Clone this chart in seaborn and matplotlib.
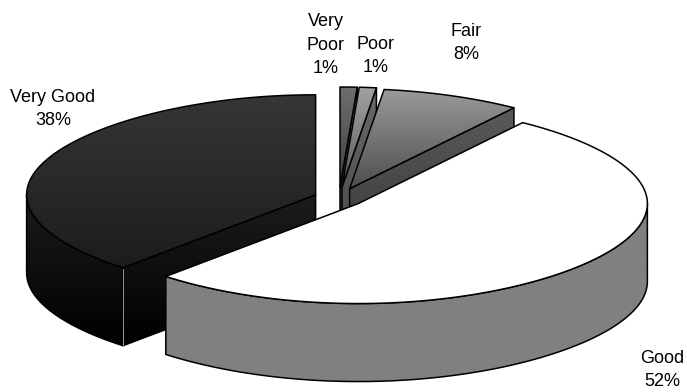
import numpy as np
import matplotlib
matplotlib.use("Agg")
import matplotlib.pyplot as plt
from matplotlib.patches import Polygon
import seaborn as sns

sns.set_theme(style="white")
plt.rcParams["font.family"] = ["Liberation Sans", "DejaVu Sans"]

# Survey responses, in the order the slices run clockwise from twelve o'clock
categories = ["Very Poor", "Poor", "Fair", "Good", "Very Good"]
shares = [1, 1, 8, 52, 38]

# Slice pull-out and shading (top of each gradient, bottom of each gradient)
explode = [0.11, 0.11, 0.10, 0.087, 0.087]
top_shades = [("#6e6e6e", "#404040"), ("#a2a2a2", "#5a5a5a"), ("#9a9a9a", "#4e4e4e"),
              ("#ffffff", "#ffffff"), ("#363636", "#1c1c1c")]
wall_shades = [("#5c5c5c", "#3c3c3c"), ("#6a6a6a", "#444444"), ("#5a5a5a", "#363636"),
               ("#808080", "#808080"), ("#1c1c1c", "#000000")]
draw_order = ["Very Poor", "Poor", "Fair", "Very Good", "Good"]
label_text = {
    "Very Poor": "Very\nPoor\n1%", "Poor": "Poor\n1%", "Fair": "Fair\n8%",
    "Good": "Good\n52%", "Very Good": "Very Good\n38%",
}
label_anchor = {
    "Very Poor": (326, 45), "Poor": (376, 56), "Fair": (466, 43),
    "Good": (662, 370), "Very Good": (53, 109),
}

# Projection of the tilted pie
CX, CY = 339, 198
RX, RY = 289, 100
DEPTH = 78
SQUARE = 0.05    # slight widening of the rim by perspective


def rim(theta, ox, oy):
    t = np.radians(theta)
    x = ox + RX * np.sin(t) * (1 - SQUARE * np.cos(t) ** 2)
    y = oy - RY * np.cos(t)
    return np.column_stack([x, y])


def shaded(ax, pts, colors, y0, y1):
    """Fill a polygon with a vertical gradient running from y0 to y1."""
    patch = Polygon(pts, closed=True, fc="none", ec="none")
    ax.add_patch(patch)
    cmap = sns.blend_palette(list(colors), as_cmap=True)
    grad = np.linspace(0, 1, 256).reshape(-1, 1)
    im = ax.imshow(grad, cmap=cmap, vmin=0, vmax=1, aspect="auto",
                   extent=(pts[:, 0].min(), pts[:, 0].max(), y1, y0),
                   interpolation="bilinear", zorder=ax.zcount)
    im.set_clip_path(patch)
    ax.zcount += 1
    ax.add_patch(Polygon(pts, closed=True, fc="none", ec="black", lw=1.1,
                         joinstyle="round", zorder=ax.zcount))
    ax.zcount += 1


fig = plt.figure(figsize=(6.87, 3.92), dpi=100, facecolor="white")
ax = fig.add_axes([0, 0, 1, 1])
ax.zcount = 2

edges = np.cumsum([0] + shares) / sum(shares) * 360
spans = {c: (edges[i], edges[i + 1], explode[i], top_shades[i], wall_shades[i])
         for i, c in enumerate(categories)}

for name in draw_order:
    t1, t2, ex, top, wall = spans[name]
    mid = np.radians((t1 + t2) / 2)
    ox = CX + ex * RX * np.sin(mid)
    oy = CY - ex * RY * np.cos(mid)
    apex = np.array([[ox, oy]])
    arc = rim(np.linspace(t1, t2, 200), ox, oy)
    surface = np.vstack([apex, arc])
    y_top, y_bottom = surface[:, 1].min(), surface[:, 1].max()
    wall_low = y_bottom + DEPTH

    # Radial faces that turn towards the viewer
    for theta, faces in ((t1, np.sin(np.radians(t1)) < -1e-6),
                         (t2, np.sin(np.radians(t2)) > 1e-6)):
        if faces:
            p = rim(np.array([theta]), ox, oy)[0]
            quad = np.array([[ox, oy], p, p + [0, DEPTH], [ox, oy + DEPTH]])
            shaded(ax, quad, wall, quad[:, 1].min(), quad[:, 1].max())

    # Outer rim, only where it faces front
    lo, hi = max(t1, 90), min(t2, 270)
    if hi > lo:
        front = rim(np.linspace(lo, hi, 200), ox, oy)
        band = np.vstack([front, (front + [0, DEPTH])[::-1]])
        shaded(ax, band, wall, y_top if name == "Good" else front[:, 1].min(), wall_low)
        if name == "Very Good":
            corner = rim(np.array([t1]), ox, oy)[0]
            ax.plot([corner[0]] * 2, [corner[1] + 1, corner[1] + DEPTH - 1],
                    color="#b0b0b0", lw=0.6, zorder=ax.zcount)
            ax.zcount += 1

    shaded(ax, surface, top, y_top, y_bottom)

for name in categories:
    x, y = label_anchor[name]
    ax.text(x, y, label_text[name], ha="center", va="center", fontsize=13,
            color="black", linespacing=1.52, zorder=ax.zcount)

ax.set_xlim(0, 687)
ax.set_ylim(392, 0)
ax.axis("off")
fig.savefig("out.png", dpi=100, facecolor="white")
